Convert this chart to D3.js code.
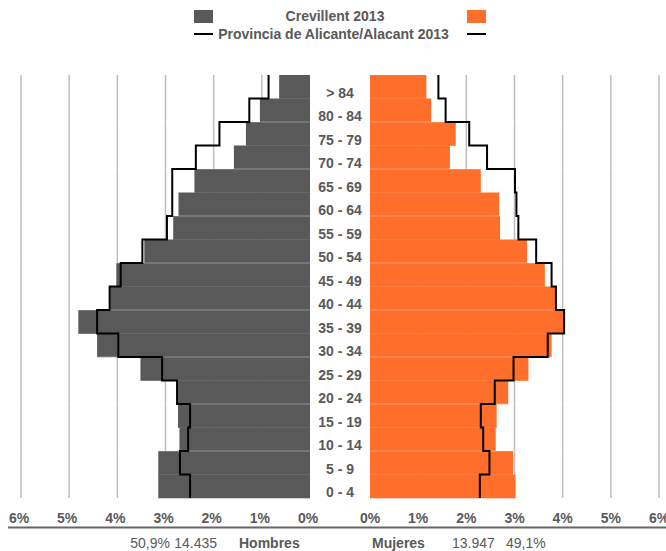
<!DOCTYPE html>
<html>
<head>
<meta charset="utf-8">
<script src="https://cdn.jsdelivr.net/npm/d3@7/dist/d3.min.js"></script>
<style>
  html, body { margin: 0; padding: 0; background: #fff; }
  svg { display: block; font-family: "Liberation Sans", Arial, sans-serif; }
</style>
</head>
<body>
<svg id="chart" width="666" height="551"></svg>
<script>
// ---- data (top to bottom) ----
const ageGroups = [">84", "80 - 84", "75 - 79", "70 - 74", "65 - 69", "60 - 64", "55 - 59", "50 - 54", "45 - 49",
                   "40 - 44", "35 - 39", "30 - 34", "25 - 29", "20 - 24", "15 - 19", "10 - 14", "5 - 9", "0 - 4"];
const ageLabels = ["> 84", "80 - 84", "75 - 79", "70 - 74", "65 - 69", "60 - 64", "55 - 59", "50 - 54", "45 - 49",
                   "40 - 44", "35 - 39", "30 - 34", "25 - 29", "20 - 24", "15 - 19", "10 - 14", "5 - 9", "0 - 4"];
// Crevillent 2013 (% of total population)
const crevillentMen   = [0.64, 1.04, 1.33, 1.58, 2.40, 2.73, 2.84, 3.44, 4.02, 4.15, 4.81, 4.42, 3.52, 2.77, 2.74, 2.71, 3.15, 3.15];
const crevillentWomen = [1.17, 1.27, 1.78, 1.66, 2.30, 2.68, 2.70, 3.26, 3.63, 3.86, 4.01, 3.77, 3.29, 2.87, 2.63, 2.61, 2.97, 3.02];
// Provincia de Alicante/Alacant 2013
const provinciaMen    = [0.86, 1.26, 1.88, 2.37, 2.86, 2.86, 2.97, 3.48, 3.93, 4.16, 4.42, 3.98, 3.07, 2.76, 2.49, 2.53, 2.70, 2.49];
const provinciaWomen  = [1.42, 1.57, 2.06, 2.43, 3.01, 3.04, 3.08, 3.45, 3.77, 3.86, 4.03, 3.69, 2.98, 2.59, 2.30, 2.35, 2.48, 2.28];
const tickValues = [0, 1, 2, 3, 4, 5, 6];
const legendLabels = ["Crevillent 2013", "Provincia de Alicante/Alacant 2013"];
const totalsMen = { pct: "50,9%", count: "14.435", label: "Hombres" };
const totalsWomen = { pct: "49,1%", count: "13.947", label: "Mujeres" };

// ---- styles ----
const cMen = "#595959", cWomen = "#FF6F2B", cText = "#595959", cGrid = "#BDBDBD";

const svg = d3.select("#chart");

const xL = d3.scaleLinear().domain([0, 6]).range([310, 21]);
const xR = d3.scaleLinear().domain([0, 6]).range([370, 659]);
const y = d3.scaleBand().domain(ageGroups).range([75, 498]).padding(0);

const plotTop = y.range()[0], plotBottom = y.range()[1];

// vertical gridlines
const grid = svg.append("g");
[xL, xR].forEach(sc => {
  grid.selectAll(null).data(tickValues.filter(d => d > 0)).enter().append("line")
    .attr("x1", d => sc(d)).attr("x2", d => sc(d))
    .attr("y1", plotTop).attr("y2", plotBottom)
    .attr("stroke", cGrid).attr("stroke-width", 1.5);
});

// bars
svg.append("g").selectAll("rect").data(ageGroups).enter().append("rect")
  .attr("x", (d, i) => xL(crevillentMen[i]))
  .attr("width", (d, i) => xL(0) - xL(crevillentMen[i]))
  .attr("y", d => y(d)).attr("height", y.bandwidth() + 0.3)
  .attr("fill", cMen);
svg.append("g").selectAll("rect").data(ageGroups).enter().append("rect")
  .attr("x", xR(0))
  .attr("width", (d, i) => xR(crevillentWomen[i]) - xR(0))
  .attr("y", d => y(d)).attr("height", y.bandwidth() + 0.3)
  .attr("fill", cWomen);

// light horizontal gridlines over bars (every two groups)
const hl = svg.append("g");
ageGroups.forEach((d, i) => {
  if (i > 0 && i % 2 === 0) {
    hl.append("line").attr("x1", xL(6)).attr("x2", xL(0)).attr("y1", y(d)).attr("y2", y(d))
      .attr("stroke", "rgba(255,255,255,0.35)").attr("stroke-width", 1);
    hl.append("line").attr("x1", xR(0)).attr("x2", xR(6)).attr("y1", y(d)).attr("y2", y(d))
      .attr("stroke", "rgba(255,255,255,0.35)").attr("stroke-width", 1);
  }
});

// step lines for provincia
function stepPath(vals, sc) {
  const p = d3.path();
  vals.forEach((v, i) => {
    const y0 = y(ageGroups[i]), y1 = y0 + y.bandwidth();
    if (i === 0) p.moveTo(sc(v), y0); else p.lineTo(sc(v), y0);
    p.lineTo(sc(v), y1);
  });
  return p.toString();
}
svg.append("path").attr("d", stepPath(provinciaMen, xL))
  .attr("fill", "none").attr("stroke", "#000").attr("stroke-width", 2);
svg.append("path").attr("d", stepPath(provinciaWomen, xR))
  .attr("fill", "none").attr("stroke", "#000").attr("stroke-width", 2);

// category labels
svg.append("g").selectAll("text").data(ageGroups).enter().append("text")
  .attr("x", 340).attr("y", d => y(d) + y.bandwidth() - 1)
  .attr("text-anchor", "middle")
  .attr("font-size", 14).attr("font-weight", "bold").attr("fill", cText)
  .text((d, i) => ageLabels[i]);

// bottom axes
function styleAxis(g, dx) {
  g.select(".domain").remove();
  g.selectAll(".tick line").remove();
  g.selectAll(".tick text")
    .attr("y", 0).attr("dy", 0).attr("dx", dx)
    .attr("font-size", 14).attr("font-weight", "bold")
    .attr("font-family", "Liberation Sans, Arial, sans-serif")
    .attr("fill", cText);
}
svg.append("g").attr("transform", "translate(0,523)")
  .call(d3.axisBottom(xL).tickValues(tickValues).tickSize(0).tickFormat(d => d + "%"))
  .call(g => styleAxis(g, -2.5));
svg.append("g").attr("transform", "translate(0,523)")
  .call(d3.axisBottom(xR).tickValues(tickValues).tickSize(0).tickFormat(d => d + "%"))
  .call(g => styleAxis(g, -0.5));
svg.append("line").attr("x1", 8).attr("x2", 666).attr("y1", 527.5).attr("y2", 527.5)
  .attr("stroke", "#666").attr("stroke-width", 2);

// totals
const tb = 547.5;
svg.append("text").attr("x", 170).attr("y", tb).attr("text-anchor", "end")
  .attr("font-size", 14).attr("fill", cText).text(totalsMen.pct);
svg.append("text").attr("x", 217).attr("y", tb).attr("text-anchor", "end")
  .attr("font-size", 14).attr("fill", cText).text(totalsMen.count);
svg.append("text").attr("x", 239).attr("y", tb)
  .attr("font-size", 14).attr("font-weight", "bold").attr("fill", cText).text(totalsMen.label);
svg.append("text").attr("x", 372).attr("y", tb)
  .attr("font-size", 14).attr("font-weight", "bold").attr("fill", cText).text(totalsWomen.label);
svg.append("text").attr("x", 452).attr("y", tb)
  .attr("font-size", 14).attr("fill", cText).text(totalsWomen.count);
svg.append("text").attr("x", 506).attr("y", tb)
  .attr("font-size", 14).attr("fill", cText).text(totalsWomen.pct);

// legend
const lg = svg.append("g");
lg.append("rect").attr("x", 194).attr("y", 10).attr("width", 19).attr("height", 13).attr("fill", cMen);
lg.append("rect").attr("x", 467).attr("y", 10).attr("width", 19).attr("height", 13).attr("fill", cWomen);
lg.append("text").attr("x", 335).attr("y", 21).attr("text-anchor", "middle")
  .attr("font-size", 14).attr("font-weight", "bold").attr("fill", cText).text(legendLabels[0]);
lg.append("line").attr("x1", 194).attr("x2", 213).attr("y1", 34).attr("y2", 34).attr("stroke", "#000").attr("stroke-width", 2);
lg.append("line").attr("x1", 467).attr("x2", 486).attr("y1", 34).attr("y2", 34).attr("stroke", "#000").attr("stroke-width", 2);
lg.append("text").attr("x", 333.5).attr("y", 39).attr("text-anchor", "middle")
  .attr("font-size", 14).attr("font-weight", "bold").attr("fill", cText).text(legendLabels[1]);
</script>
</body>
</html>
